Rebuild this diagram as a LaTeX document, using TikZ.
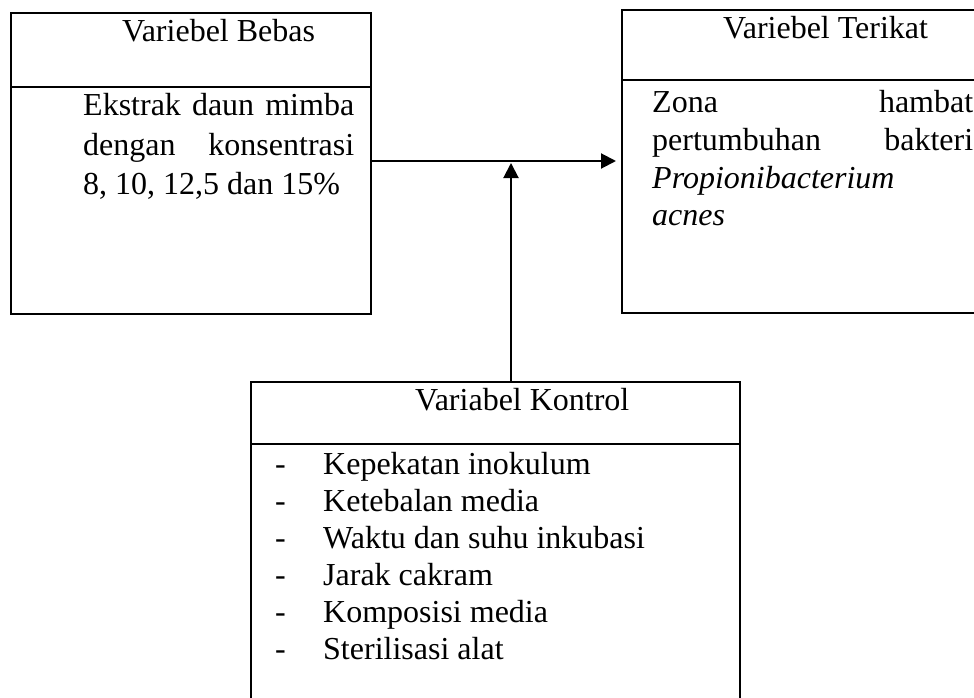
\documentclass[tikz,border=0pt]{standalone}
\usepackage{fontspec}
\setmainfont{Liberation Serif}
\usetikzlibrary{arrows.meta}
\begin{document}
\begin{tikzpicture}[x=1pt,y=-1pt,
  box/.style={draw, line width=2pt, inner sep=0pt, anchor=north west},
  txt/.style={inner sep=0pt, anchor=base west, font=\fontsize{32}{38}\selectfont},
  arr/.style={line width=2pt, -{Triangle[length=15pt,width=15pt]}},
  divider/.style={line width=2pt}]
\useasboundingbox (0,0) rectangle (974,698);
\clip (0,0) rectangle (974,698);
\fill[white] (0,0) rectangle (974,698);
% boxes
\node[box, minimum width=360pt, minimum height=300.5pt] (bebas) at (10,12.5) {};
\node[box, minimum width=390pt, minimum height=302.5pt] (terikat) at (621,9.5) {};
\node[box, minimum width=489pt, minimum height=330pt] (kontrol) at (250,381) {};
% dividers
\draw[divider] ([yshift=-74.5pt]bebas.north west) -- ([yshift=-74.5pt]bebas.north east);
\draw[divider] ([yshift=-70.5pt]terikat.north west) -- ([yshift=-70.5pt]terikat.north east);
\draw[divider] ([yshift=-63pt]kontrol.north west) -- ([yshift=-63pt]kontrol.north east);
% headers
\node[txt] (hb) at (122,42) {Variebel Bebas};
\node[txt] (ht) at (723,39) {Variebel Terikat};
\node[txt] (hk) at (415,410) {Variabel Kontrol};
% left body
\node[txt] (b1) at (83,116) {\makebox[271pt][s]{Ekstrak daun mimba}};
\node[txt] (b2) at (83,155) {\makebox[271pt][s]{dengan konsentrasi}};
\node[txt] (b3) at (83,194) {8, 10, 12,5 dan 15\%};
% right body
\node[txt] (t1) at (652,113) {\makebox[321pt][s]{Zona hambat}};
\node[txt] (t2) at (652,150) {\makebox[321pt][s]{pertumbuhan bakteri}};
\node[txt] (t3) at (652,188) {\textit{Propionibacterium}};
\node[txt] (t4) at (652,225) {\textit{acnes}};
% control list
\foreach \i/\t/\yy in {1/Kepekatan inokulum/474, 2/Ketebalan media/511, 3/Waktu dan suhu inkubasi/548, 4/Jarak cakram/585, 5/Komposisi media/622, 6/Sterilisasi alat/659}{
  \node[txt] (d\i) at (275,\yy) {-};
  \node[txt] (k\i) at (323,\yy) {\t};
}
% connectors
\coordinate (hy) at (0,161);
\coordinate (vt) at (511,163);
\draw[arr, shorten >=5pt] (bebas.east |- hy) -- (terikat.west |- hy);
\draw[arr] (vt |- kontrol.north) -- (vt);
\end{tikzpicture}
\end{document}
